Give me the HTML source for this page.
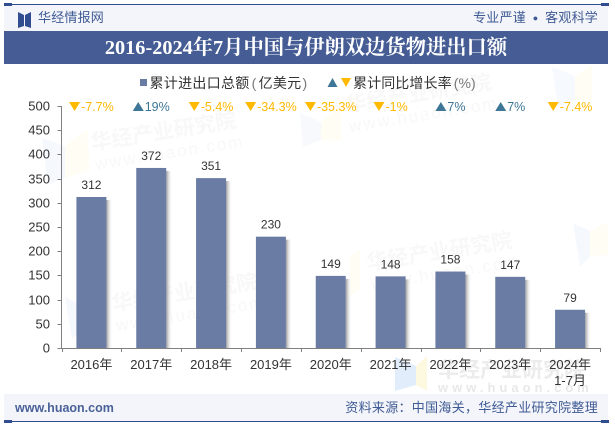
<!DOCTYPE html>
<html lang="zh">
<head>
<meta charset="utf-8">
<title>2016-2024年7月中国与伊朗双边货物进出口额</title>
<style>
html,body{margin:0;padding:0;background:#fff;}
body{width:615px;height:427px;overflow:hidden;position:relative;font-family:"Liberation Sans","Noto Sans CJK SC",sans-serif;}
.abs{position:absolute;white-space:nowrap;}
svg{position:absolute;left:0;top:0;}
</style>
</head>
<body>
<div class="abs" style="left:4px;top:5px;width:604px;height:26px;background:#f3f5fa;"></div>
<div class="abs" style="left:4px;top:4px;width:604px;height:1px;background:#2f4d8f;"></div>
<div class="abs" style="left:4px;top:3px;width:8px;height:3px;background:#2f4d8f;"></div>
<div class="abs" style="left:601px;top:3px;width:8px;height:3px;background:#2f4d8f;"></div>
<div class="abs" style="left:38px;top:9px;font-size:13px;line-height:18px;letter-spacing:0.2px;color:#3f5a94;">华经情报网</div>
<div class="abs" style="right:17px;top:9px;font-size:13px;line-height:18px;letter-spacing:0.2px;color:#3f5a94;">专业严谨 <span style="font-size:9px;vertical-align:1px;padding:0 3px;">●</span> 客观科学</div>
<div class="abs" style="left:4px;top:31px;width:604px;height:33px;background:#455d94;"></div>
<div class="abs" style="left:4px;top:31px;width:604px;height:33px;line-height:34px;text-align:center;color:#fff;font-size:20.3px;font-weight:bold;font-family:'Liberation Serif','Noto Serif CJK SC',serif;">2016-2024年7月中国与伊朗双边货物进出口额</div>
<div class="abs" style="left:4px;top:394px;width:604px;height:27px;background:#f3f5fa;"></div>
<div class="abs" style="left:4px;top:421px;width:604px;height:1px;background:#2f4d8f;"></div>
<div class="abs" style="left:4px;top:420px;width:8px;height:3px;background:#2f4d8f;"></div>
<div class="abs" style="left:601px;top:420px;width:8px;height:3px;background:#2f4d8f;"></div>
<div class="abs" style="left:15px;top:399px;font-size:12.5px;line-height:18px;font-weight:bold;color:#4a6199;">www.huaon.com</div>
<div class="abs" style="right:17px;top:399px;font-size:13px;line-height:18px;letter-spacing:0.3px;color:#3f5a94;">资料来源：中国海关，华经产业研究院整理</div>
<svg id="chart" width="615" height="427" viewBox="0 0 615 427" xmlns="http://www.w3.org/2000/svg">
<defs>
<linearGradient id="barShadow" x1="0" x2="1" y1="0" y2="0">
<stop offset="0" stop-color="#9a9a9a"/>
<stop offset="1" stop-color="#ffffff" stop-opacity="0"/>
</linearGradient>
</defs>
<polygon points="18,12 24,15 24,26 18,28" fill="#2f4d8f"/>
<polygon points="31,12 25,15 25,26 31,28" fill="#2f4d8f"/>
<g font-weight="bold" fill="#f8f8f8" font-size="21">
<text transform="translate(92,150) rotate(-9)">华经产业研究院</text>
<text transform="translate(96,170) rotate(-9)" font-size="17" font-weight="normal" letter-spacing="2">www.huaon.com</text>
<text transform="translate(347,112) rotate(-9)">华经产业研究院</text>
<text transform="translate(350,132) rotate(-9)" font-size="17" font-weight="normal" letter-spacing="2">www.huaon.com</text>
<text transform="translate(368,270) rotate(-9)">华经产业研究院</text>
<text transform="translate(372,290) rotate(-9)" font-size="17" font-weight="normal" letter-spacing="2">www.huaon.com</text>
<text transform="translate(113,311) rotate(-9)">华经产业研究院</text>
<text transform="translate(117,331) rotate(-9)" font-size="17" font-weight="normal" letter-spacing="2">www.huaon.com</text>
<text x="438" y="377" fill="#ececec">华经产业研究院</text>
<text x="438" y="392" letter-spacing="4" font-size="13" fill="#e8e8e8">www.huaon.com</text>
</g>
<g>
<polygon points="42,138 65,146 65,178 48,185" fill="#f5f8fd"/>
<polygon points="87,130 65,146 65,178 90,170" fill="#fffdf4"/>
<polygon points="300,113 321,122 321,140 303,147" fill="#f7f9fd"/>
<polygon points="341,105 321,122 321,140 341,141" fill="#fffdf4"/>
<polygon points="552,67 575,76 575,100 558,107" fill="#f6f9fd"/>
<polygon points="592,65 575,76 575,100 592,100" fill="#fffdf4"/>
<polygon points="573,223 590,231 590,256 580,267" fill="#f5f8fd"/>
<polygon points="608,222 590,231 590,256 608,255" fill="#fffdf4"/>
<polygon points="65,297 82,305 82,330 72,339" fill="#f5f8fd"/>
<polygon points="350,255 360,250 360,290 350,295" fill="#fffdf4"/>
</g>
<polygon points="395,357 416,366 416,385 395,391" fill="#e2edfb"/>
<polygon points="427,356 416,366 416,385 427,391" fill="#fdf8e0"/>
<g id="plot"></g>
<g>
<rect x="140" y="79" width="7" height="7" fill="#6a7ca3"/>
<text x="149.500" y="88" font-size="14" letter-spacing="0.3" fill="#333">累计进出口总额<tspan dx="2" fill="#777">(</tspan><tspan dx="2">亿美元</tspan><tspan dx="1" fill="#777">)</tspan></text>
<polygon points="332.500,78 337.500,87 327.500,87" fill="#3d7696"/>
<polygon points="341,78 351,78 346,87" fill="#ffb900"/>
<text x="353" y="88" font-size="14" letter-spacing="0.1" fill="#333">累计同比增长率<tspan dx="2" fill="#777">(%)</tspan></text>
</g>
</svg>
<script>
const categories = ["2016年","2017年","2018年","2019年","2020年","2021年","2022年","2023年","2024年"];
const categorySubLabels = ["","","","","","","","","1-7月"];
const totalValues = [312,372,351,230,149,148,158,147,79];
const growthValues = [-7.7,19,-5.4,-34.3,-35.3,-1,7,7,-7.4];
const yTicks = [0,50,100,150,200,250,300,350,400,450,500];

const NS = "http://www.w3.org/2000/svg";
const plot = document.getElementById("plot");
const left = 61.5, right = 600, top0 = 106, bottom = 348;
const yMax = 500;
const band = (right - left) / categories.length;
const barW = 30;
const axisColor = "#808080";
const xScale = function(i){ return left + band * i + band / 2; };
const yScale = function(v){ return bottom - (v / yMax) * (bottom - top0); };

function make(tag, attrs, text){
  const el = document.createElementNS(NS, tag);
  for (const k in attrs) el.setAttribute(k, attrs[k]);
  if (text !== undefined) el.textContent = text;
  plot.appendChild(el);
  return el;
}

totalValues.forEach(function(v, i){
  const x = xScale(i) - barW / 2;
  const y = yScale(v);
  const shadow = make("rect", {x: x + barW, y: y + 3, width: 6, height: bottom - y - 3, fill: "url(#barShadow)"});
  
  
  const bar = make("rect", {x: x, y: y, width: barW, height: bottom - y, fill: "#6a7ca3"});
  
  
  const label = make("text", {x: xScale(i), y: y - 8, "text-anchor": "middle", "font-size": 12, fill: "#333"}, String(v));
  
  
});

const yAxis = make("line", {x1: left, x2: left, y1: top0, y2: bottom + 0.5, stroke: axisColor, "stroke-width": 1});


const xAxis = make("line", {x1: left, x2: right + 0.5, y1: bottom + 0.5, y2: bottom + 0.5, stroke: axisColor, "stroke-width": 1});



yTicks.forEach(function(t){
  const y = Math.round(yScale(t)) + 0.5;
  const tick = make("line", {x1: left - 4, x2: left, y1: y, y2: y, stroke: axisColor, "stroke-width": 1});
  
  
  const label = make("text", {x: 50, y: y + 4, "text-anchor": "end", "font-size": 13, fill: "#333"}, String(t));
  
  
});

for (let i = 0; i <= categories.length; i++) {
  const x = Math.round(left + band * i) + 0.5;
  const tick = make("line", {x1: x, x2: x, y1: bottom, y2: bottom + 4, stroke: axisColor, "stroke-width": 1});
  
  
}

categories.forEach(function(c, i){
  const label = make("text", {x: xScale(i), y: 369, "text-anchor": "middle", "font-size": 13, fill: "#333"}, c);
  
  
  if (categorySubLabels[i]) {
    const sub = make("text", {x: xScale(i), y: 385, "text-anchor": "middle", "font-size": 13, fill: "#333"}, categorySubLabels[i]);
    
    
  }
});

growthValues.forEach(function(v, i){
  const up = v >= 0;
  const color = up ? "#3d7696" : "#ffb900";
  const label = make("text", {x: 0, y: 111, "font-size": 12.5, fill: color}, v + "%");
  
  
  const w = label.getComputedTextLength();
  const triW = 11;
  const start = xScale(i) - (triW + 1 + w) / 2;
  label.setAttribute("x", start + triW + 1);
  const pts = up
    ? [[start + triW / 2, 102],[start + triW, 111],[start, 111]]
    : [[start, 102],[start + triW, 102],[start + triW / 2, 111]];
  const tri = make("polygon", {points: pts.map(function(p){ return p.join(","); }).join(" "), fill: color});
  
  
});
</script>
</body>
</html>
